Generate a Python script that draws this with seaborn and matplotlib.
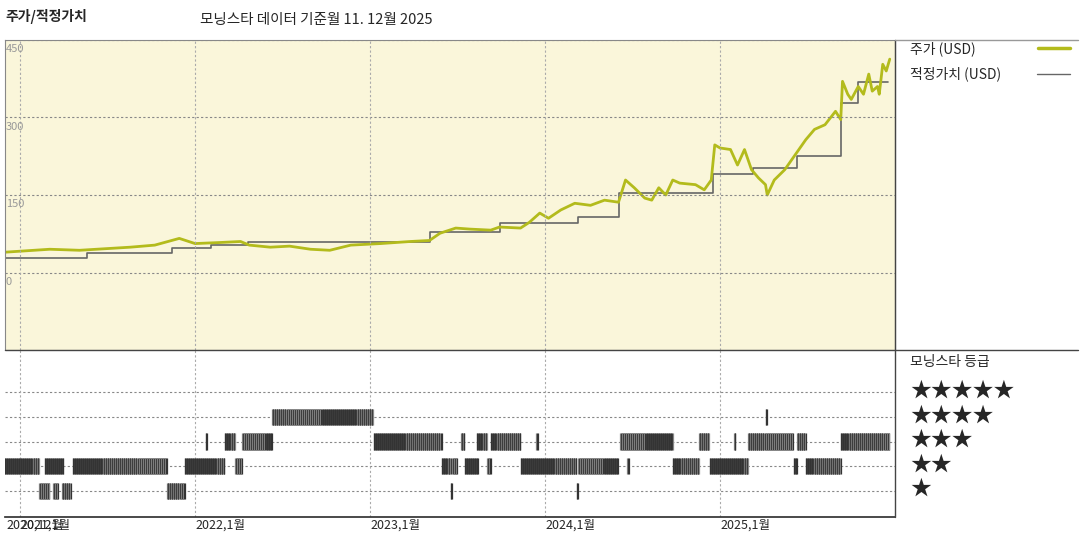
import numpy as np
import pandas as pd
import matplotlib
matplotlib.use("Agg")
import matplotlib.pyplot as plt
import seaborn as sns
from matplotlib.lines import Line2D

sns.set_theme(style="white")
plt.rcParams['font.family'] = ['Noto Sans CJK KR', 'DejaVu Sans']

# ---- data (decimal years) ----
price_t = [2020.90, 2021.17, 2021.34, 2021.63, 2021.77, 2021.91, 2022.00, 2022.14, 2022.26, 2022.31,
           2022.43, 2022.54, 2022.66, 2022.77, 2022.89, 2023.06, 2023.23, 2023.34, 2023.40, 2023.49,
           2023.57, 2023.69, 2023.74, 2023.86, 2023.91, 2023.97, 2024.02, 2024.09, 2024.17, 2024.26,
           2024.34, 2024.42, 2024.46, 2024.51, 2024.57, 2024.61, 2024.65, 2024.69, 2024.73, 2024.77,
           2024.86, 2024.91, 2024.95, 2024.97, 2025.00, 2025.06, 2025.10, 2025.14, 2025.18, 2025.22,
           2025.26, 2025.27, 2025.31, 2025.37, 2025.43, 2025.49, 2025.54, 2025.60, 2025.66, 2025.69,
           2025.70, 2025.73, 2025.75, 2025.79, 2025.82, 2025.85, 2025.87, 2025.90, 2025.91, 2025.93,
           2025.95, 2025.97]
price_v = [39, 45, 43, 49, 53, 66, 56, 58, 60, 53,
           49, 51, 45, 43, 53, 56, 60, 62, 76, 86,
           84, 82, 88, 86, 97, 115, 105, 121, 134, 130,
           140, 136, 179, 164, 144, 140, 164, 150, 179, 173,
           170, 160, 179, 247, 241, 238, 208, 238, 199, 183,
           170, 150, 179, 199, 228, 257, 277, 286, 312, 296,
           370, 345, 335, 360, 345, 384, 351, 360, 345, 403,
           390, 413]

fair_t = [2020.90, 2021.38, 2021.87, 2022.09, 2022.30, 2023.34, 2023.74, 2024.19, 2024.42,
          2024.96, 2025.19, 2025.44, 2025.69, 2025.79, 2025.96]
fair_v = [29, 37, 47, 53, 60, 78, 95, 107, 154, 191, 203, 226, 329, 368, 368]

# rating intervals: (start, end, stars)
rating_start = [2020.90, 2021.14, 2021.30, 2021.94, 2022.23,
                2021.11, 2021.19, 2021.24, 2021.84,
                2022.06, 2022.17, 2022.27, 2022.44,
                2023.02, 2023.52, 2023.61, 2023.69, 2023.95, 2024.43, 2024.88, 2025.08, 2025.16, 2025.44, 2025.69,
                2023.41, 2023.47, 2023.54, 2023.67, 2023.86, 2024.19, 2024.47, 2024.73, 2024.94, 2025.42, 2025.49,
                2023.46, 2024.18, 2025.26]
rating_end = [2021.11, 2021.25, 2021.84, 2022.17, 2022.27,
              2021.17, 2021.22, 2021.29, 2021.94,
              2022.07, 2022.23, 2022.44, 2023.02,
              2023.41, 2023.54, 2023.67, 2023.86, 2023.96, 2024.73, 2024.94, 2025.09, 2025.42, 2025.49, 2025.97,
              2023.46, 2023.50, 2023.62, 2023.69, 2024.18, 2024.42, 2024.48, 2024.88, 2025.16, 2025.44, 2025.69,
              2023.47, 2024.19, 2025.27]
rating_stars = [2, 2, 2, 2, 2,
                1, 1, 1, 1,
                3, 3, 3, 4,
                3, 3, 3, 3, 3, 3, 3, 3, 3, 3, 3,
                2, 2, 2, 2, 2, 2, 2, 2, 2, 2, 2,
                1, 1, 4]

year_ticks = [2022, 2023, 2024, 2025]
year_labels = ["2022,1월", "2023,1월", "2024,1월", "2025,1월"]
y_ticks = [0, 150, 300, 450]
legend_stars = ["★★★★★", "★★★★", "★★★", "★★", "★"]

# ---- figure ----
W, H = 1080, 540
fig = plt.figure(figsize=(10.8, 5.4), dpi=100)
green = "#b3bb1c"
bg = "#faf6da"
xlim = (2020.914, 2026.0)

ax = fig.add_axes([5 / W, (H - 350) / H, 890 / W, 310 / H])
ax.set_facecolor(bg)
df_f = pd.DataFrame({"t": fair_t, "v": fair_v})
ax.step(df_f["t"], df_f["v"], where="post", color="#666666", lw=1.2)
df_p = pd.DataFrame({"t": price_t, "v": price_v})
sns.lineplot(data=df_p, x="t", y="v", ax=ax, color=green, lw=2)
ax.set_xlim(xlim)
ax.set_ylim(-150, 450)
for yv in y_ticks:
    ax.axhline(yv, color="#888888", ls=(0, (2, 2)), lw=0.8)
    ax.text(xlim[0] + 0.005, yv - 8, str(yv), color="#999999", fontsize=8, va="top", ha="left")
for xv in [2021] + year_ticks:
    ax.axvline(xv, color="#aaaaaa", ls=(0, (2, 2)), lw=0.8)
ax.set_xticks([]); ax.set_yticks([])
ax.set_xlabel(""); ax.set_ylabel("")
for s in ax.spines.values():
    s.set_color("#888888"); s.set_linewidth(0.8)

ax2 = fig.add_axes([5 / W, (H - 517) / H, 890 / W, 167 / H])
ax2.set_facecolor("white")
for st in range(1, 6):
    ax2.axhline(st, color="#888888", ls=(0, (2, 2)), lw=0.8)
for xv in [2021] + year_ticks:
    ax2.axvline(xv, color="#aaaaaa", ls=(0, (2, 2)), lw=0.8)
for s0, s1, st in zip(rating_start, rating_end, rating_stars):
    ts = np.arange(s0, s1 + 1e-9, 1 / 260)
    cols = ["#333333" if i % 3 else "#888888" for i in range(len(ts))]
    ax2.vlines(ts, st - 0.33, st + 0.33, colors=cols, lw=0.9)
ax2.set_xlim(xlim)
ax2.set_ylim(-0.05, 6.7)
ax2.set_yticks([])
ax2.set_xticks([2020.92, 2021] + year_ticks)
ax2.set_xticklabels(["2020,12월", "2021,1월"] + year_labels, fontsize=9)
ax2.tick_params(axis="x", length=0, pad=1)
for lbl in ax2.get_xticklabels():
    lbl.set_ha("left")
for k, s in ax2.spines.items():
    s.set_visible(k == "bottom")
ax2.spines["bottom"].set_color("#333333")

# frame lines on the right
def fl(x0, y0, x1, y1, c="#444444"):
    fig.add_artist(Line2D([x0 / W, x1 / W], [1 - y0 / H, 1 - y1 / H], color=c, lw=1))

fl(895, 40, 895, 517)
fl(895, 40, 1078, 40, "#999999")
fl(895, 350, 1078, 350)
fl(5, 350, 895, 350)

fig.text(5 / W, 1 - 17 / H, "주가/적정가치", fontsize=10, fontweight="bold", va="center")
fig.text(200 / W, 1 - 20 / H, "모닝스타 데이터 기준월 11. 12월 2025", fontsize=10.5, va="center")
fig.text(910 / W, 1 - 49 / H, "주가 (USD)", fontsize=10, va="center")
fig.add_artist(Line2D([1038 / W, 1070 / W], [1 - 48 / H] * 2, color=green, lw=2.5))
fig.text(910 / W, 1 - 74 / H, "적정가치 (USD)", fontsize=10, va="center")
fig.add_artist(Line2D([1037 / W, 1070 / W], [1 - 74 / H] * 2, color="#666666", lw=1))
fig.text(910 / W, 1 - 362 / H, "모닝스타 등급", fontsize=10, va="center")
for i, s in enumerate(legend_stars):
    fig.text(910 / W, 1 - (391 + i * 24.5) / H, s, fontsize=15, va="center")

fig.savefig("out.png", dpi=100)
